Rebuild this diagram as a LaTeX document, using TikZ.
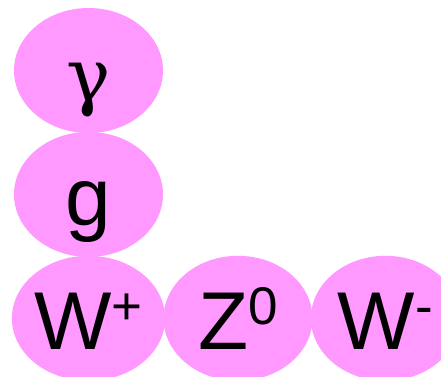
\documentclass[tikz,border=0pt]{standalone}
\usepackage{fontspec}
\setmainfont{Liberation Sans}
\newfontfamily\greekfont{DejaVu Serif}
\usetikzlibrary{positioning, shapes.geometric}
\definecolor{bosonpink}{RGB}{255,153,255}
\newcommand{\bosonsup}[1]{\raisebox{25pt}{\fontsize{53}{53}\selectfont #1}}
\tikzset{
  boson/.style={
    ellipse, fill=bosonpink, draw=none,
    minimum width=149pt, minimum height=125pt, inner sep=0pt,
    text height=62pt, text depth=0pt,
    font=\fontsize{82}{82}\selectfont
  }
}
\begin{document}
\begin{tikzpicture}[x=1pt, y=1pt, node distance=-1.5pt and -2pt]
  \useasboundingbox (0,0) rectangle (441,-376);
  \clip (0,0) rectangle (441,-376);
  \node[boson] (photon) at (88.5,-70.5) {\greekfont\fontsize{74}{74}\selectfont γ};
  \node[boson, below=of photon] (gluon) {g};
  \node[boson, below=of gluon] (wplus) {W\bosonsup{+}};
  \node[boson, right=of wplus] (zzero) {Z\bosonsup{0}};
  \node[boson, right=of zzero] (wminus) {W\bosonsup{-}};
\end{tikzpicture}
\end{document}
